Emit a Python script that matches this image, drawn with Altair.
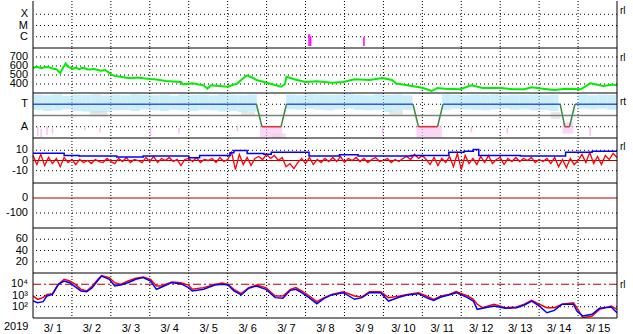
import altair as alt
import pandas as pd

W, H = 584, 45
H1 = 47
FONT = "Liberation Sans"
DARKRED = "#b00000"

grid_days = list(range(1, 15))
frame_days = [0, 15]
label_days = [d + 0.5 for d in range(15)]

# ---------- Panel 1: X-ray flares ----------
xray_ticks = [1e-4, 1e-5, 1e-6]
xray_labels = ["X", "M", "C"]
xray_day = [7.09, 7.13, 8.50]
xray_lo = [1.5e-7, 1.5e-7, 1.5e-7]
xray_hi = [1.8e-6, 1.1e-6, 9e-7]

# ---------- Panel 2: solar wind speed ----------
speed_ticks = [700, 600, 500, 400]
speed_day = [0.00, 0.10, 0.21, 0.30, 0.41, 0.50, 0.60, 0.70, 0.75, 0.84, 0.89, 0.95, 1.04, 1.10,
             1.18, 1.25, 1.33, 1.40, 1.47, 1.55, 1.67, 1.75, 1.86,
             2.01, 2.10, 2.25, 2.40, 2.54, 2.70, 2.83, 3.00, 3.12, 3.25, 3.41, 3.60, 3.80, 3.85,
             4.09, 4.38, 4.48, 4.57, 4.77, 5.01,
             5.25, 5.49, 5.64, 5.74, 5.93, 6.12, 6.37, 6.47, 6.51, 6.71, 6.99, 7.29, 7.67, 7.97,
             8.26, 8.64, 8.98, 9.22, 9.32, 9.61, 10.00, 10.24, 10.39, 10.58, 10.97, 11.26, 11.55,
             12.03, 12.33, 12.62, 12.81, 13.10, 13.39, 13.68, 14.07, 14.31, 14.65, 14.89, 15.00]
speed_val = [581, 590, 575, 588, 585, 572, 565, 520, 565, 630, 595, 580, 570, 585,
             563, 580, 575, 562, 560, 570, 556, 548, 556,
             507, 490, 481, 470, 463, 472, 463, 455, 452, 445, 433, 428, 422, 395,
             407, 385, 348, 385, 378, 370,
             407, 496, 470, 444, 422, 400, 370, 400, 481, 452, 422, 430, 415, 422,
             452, 444, 467, 444, 407, 385, 359, 322, 356, 348, 341, 385, 356,
             356, 341, 341, 363, 348, 333, 348, 341, 407, 378, 393, 385]

# ---------- Panel 3: IMF sector ----------
sector_labels = ["T", "A"]
sector_ticks = [1, -1]
sector_day = [0, 5.74, 5.88, 6.37, 6.51, 9.76, 9.90, 10.39, 10.53, 13.54, 13.66, 13.78, 13.92, 15]
sector_val = [1, 1, -1, -1, 1, 1, -1, -1, 1, 1, -1, -1, 1, 1]
cyan_hi = [1.85, 1.8, 1.88, 1.75, 1.85, 1.82, 1.9, 1.78, 1.85, 1.8, 1.88, 1.85, 1.8, 1.86, 1.78,
           1.88, 1.82, 1.85, 1.8, 1.88, 1.84, 1.8, 1.86, None, None, None,
           1.85, 1.8, 1.88, 1.85, 1.82, 1.86, 1.9, 1.84, 1.8, 1.88, 1.82, 1.86, 1.8, None, None, None,
           1.88, 1.84, 1.8, 1.86, 1.82, 1.88, 1.8, 1.85, 1.82, 1.86, 1.8, 1.84, None, None,
           1.85, 1.8, 1.86, 1.82]
cyan_lo = [0.5, 0.4, 0.45, 0.55, 0.4, 0.35, 0.25, 0.3, 0.45, 0.5, 0.4, 0.55, 0.45, 0.4, 0.5,
           0.45, 0.4, 0.5, 0.45, 0.35, 0.4, 0.3, 0.35, None, None, None,
           0.55, 0.5, 0.6, 0.5, 0.45, 0.55, 0.6, 0.5, 0.45, 0.5, 0.3, 0.4, 0.5, None, None, None,
           0.5, 0.6, 0.55, 0.5, 0.45, 0.55, 0.6, 0.5, 0.55, 0.45, 0.5, 0.4, None, None,
           0.6, 0.55, 0.6, 0.5]
pinkA_day = [5.83, 9.85, 13.60]
pinkA_day2 = [6.40, 10.50, 13.88]
pinkA_lo = [-1.95, -1.95, -1.6]
pinkA_hi = [-0.9, -0.85, -0.6]
pink_day = [0.12, 0.21, 0.36, 0.50, 1.33, 1.72, 3.02, 3.75, 5.25, 8.98, 11.26, 12.18, 14.31]
pink_lo = [-1.8, -1.9, -1.7, -1.6, -1.3, -1.5, -1.8, -1.6, -1.4, -1.7, -1.5, -1.6, -1.8]
pink_hi = [-1.0, -1.2, -0.95, -1.1, -1.0, -1.1, -1.0, -1.1, -0.9, -0.9, -1.0, -1.1, -1.0]
gray_day = [1.45, 5.35, 9.15, 13.30, 6.15]
gray_day2 = [1.90, 5.70, 9.50, 13.55, 6.50]
gray_lo = [-0.1, 0.0, 0.0, -0.3, -2.0]
gray_hi = [0.4, 0.35, 0.4, 0.3, -1.6]

# ---------- Panel 4: IMF Bt / Bz ----------
bz = [5, -4, 6, -5, 3,
      -3, 2, -6, 3, -2, 1, -4,
      1, -2, 0, -3, 1, -1, -2, 2, -1, -3,
      2, -1, 3, -2, 1, 0, -2,
      3, -1, 4, -2, 2, 0, 3, -1, 1,
      -5, 1,
      2, -1, 3, -2, 1, 0, 2, -2, 3, -1, 1,
      8, -9, 6,
      -4, 3, -5, 2,
      4, 1, 6, 2, 5, 0, 3,
      -6, -3, -8, -2,
      2, -3, 3, -4, 1, -2, 2, -1,
      3, -1, 4, -2, 2, 0, 3,
      -1, 2, -2, 1, 3, -1, 0, 2, -2, 1, -1, 2,
      4, 1, 6, 2, 5, 1,
      -4, 3, -5, 2, -2, 4,
      -6, 7, -9, 5, -3, 2,
      -4, 4, -2, 5, -3, 1, 3, -4, 2, -1, 3,
      -1, 2, 0, 3, -2, 1, -1, 2,
      -3, 3, -6, 1, -7, 2, -4, 0,
      6, -2, 8, -3, 4, -4, 5, 1, 7, 3]
bt_day = [0, 0.8, 1.18, 2.15, 2.83, 4.0, 4.28, 5.06, 5.16, 5.5, 5.93, 6.12, 7.09, 7.87, 8.35,
          9.71, 10.68, 11.07, 11.31, 11.45, 12.52, 13.68, 14.36, 15]
bt_val = [7.0, 5.0, 4.3, 3.5, 4.3, 2.7, 5.0, 7.5, 9.7, 6.8, 6.0, 8.0, 4.3, 5.6, 4.3,
          5.0, 8.0, 9.0, 10.8, 5.0, 4.3, 8.0, 9.0, 9.0]
bz_grid = [10, -10]
bz_ticks = [10, 0, -10]
bz_labels = ["10", "0", "-10"]

# ---------- Panel 5 / 6 ----------
dst_grid = [-100]
dst_ticks = [0, -100]
dst_labels = ["0", "-100"]
p6_ticks = [60, 40, 20]
p6_labels = ["60", "40", "20"]

# ---------- Panel 7: electron flux (log10) ----------
flux_day = [0.00, 0.12, 0.26, 0.36, 0.50, 0.65, 0.80, 0.94, 1.09, 1.23,
            1.38, 1.52, 1.67, 1.76, 1.96, 2.10, 2.25, 2.44, 2.64, 2.83,
            3.02, 3.17, 3.31, 3.56, 3.80, 3.99, 4.09, 4.38, 4.67, 4.86,
            5.01, 5.16, 5.35, 5.54, 5.74, 5.98, 6.22, 6.42, 6.61, 6.75,
            6.90, 7.09, 7.29, 7.48, 7.67, 7.97, 8.26, 8.45, 8.64, 8.93,
            9.13, 9.42, 9.61, 9.90, 10.10, 10.29, 10.48, 10.68, 10.87, 11.16,
            11.31, 11.41, 11.55, 11.84, 12.13, 12.42, 12.62, 12.81, 13.00, 13.20,
            13.39, 13.59, 13.88, 13.97, 14.12, 14.36, 14.55, 14.85, 15.00]
flux_red_log = [2.96, 2.66, 2.81, 3.10, 3.16, 3.99, 4.44, 4.29, 3.99, 3.55,
                3.40, 3.85, 4.44, 4.76, 4.59, 4.14, 3.99, 4.29, 4.53, 4.65,
                4.44, 3.85, 3.85, 4.20, 4.14, 3.93, 3.55, 3.70, 3.99, 4.11,
                3.99, 3.55, 3.16, 3.70, 3.93, 3.70, 2.96, 2.96, 3.55, 3.70,
                3.40, 2.96, 2.45, 2.81, 3.10, 3.34, 2.96, 2.87, 3.34, 3.34,
                2.81, 2.96, 3.10, 3.25, 2.96, 2.66, 2.96, 3.10, 3.34, 2.96,
                2.66, 2.22, 1.92, 2.22, 1.92, 1.98, 2.22, 2.57, 2.22, 1.92,
                1.92, 2.22, 2.36, 1.92, 1.03, 1.18, 1.77, 2.07, 1.77]
flux_blue_log = [2.51, 2.36, 2.45, 2.96, 3.10, 3.99, 4.29, 4.14, 3.76, 3.40,
                 3.34, 3.70, 4.35, 4.73, 4.44, 3.85, 3.93, 4.14, 4.44, 4.59,
                 4.29, 3.55, 3.76, 4.14, 4.05, 3.70, 3.40, 3.55, 3.93, 3.99,
                 3.93, 3.40, 3.05, 3.64, 3.85, 3.55, 2.81, 2.75, 3.46, 3.55,
                 3.25, 2.81, 2.27, 2.75, 3.05, 3.25, 2.66, 2.81, 3.25, 3.25,
                 2.51, 2.87, 3.05, 3.16, 2.81, 2.57, 2.87, 3.05, 3.25, 2.81,
                 2.51, 1.77, 1.86, 2.07, 1.86, 1.92, 2.16, 2.51, 2.07, 1.47,
                 1.68, 2.22, 2.22, 1.62, 1.18, 1.33, 1.86, 1.98, 1.47]
flux_grid = [1e3, 1e2]
flux_ticks = [1e4, 1e3, 1e2]
flux_labels = ["10⁴", "10³", "10²"]
flux_ref = [1e4]

# ================= helpers =================
XS = alt.Scale(domain=[0, 15], nice=False, zero=False)


def X():
    return alt.X("day:Q", scale=XS, axis=None, title=None)


def XB():
    return alt.X("day:Q", scale=XS, title=None)


def Y(field, ys):
    return alt.Y(f"{field}:Q", scale=ys, axis=None, title=None)


def vgrid(bottom=False):
    df = pd.DataFrame({"day": grid_days})
    if bottom:
        ax = alt.Axis(values=label_days, labelExpr="'3/ ' + (floor(datum.value) + 1)",
                      ticks=False, domain=False, grid=False, labelFont=FONT, labelFontSize=11,
                      labelColor="black", labelPadding=4, labelFlush=False, labelOverlap=False)
        x = alt.X("day:Q", scale=XS, axis=ax, title=None)
    else:
        x = X()
    return alt.Chart(df).mark_rule(color="black", strokeDash=[1, 2], strokeWidth=1).encode(x=x)


def frame(h, bottom=False):
    df = pd.DataFrame({"day": frame_days})
    side = alt.Chart(df).mark_rule(color="black", strokeWidth=1).encode(x=XB() if bottom else X())
    base = alt.Chart(pd.DataFrame({"k": [0]})).mark_rule(color="black", strokeWidth=1).encode(
        x=alt.value(0), x2=alt.value(W), y=alt.value(h))
    return [side, base]


def hgrid(values, ys):
    df = pd.DataFrame({"v": values})
    return alt.Chart(df).mark_rule(color="black", strokeDash=[1, 3], strokeWidth=1).encode(y=Y("v", ys))


def ylabels(values, texts, ys):
    df = pd.DataFrame({"v": values, "t": texts})
    return alt.Chart(df).mark_text(align="right", baseline="middle", font=FONT, fontSize=11,
                                   color="black").encode(x=alt.value(-5), y=Y("v", ys), text="t:N")


def rl(text, y):
    df = pd.DataFrame({"t": [text]})
    return alt.Chart(df).mark_text(align="left", baseline="middle", font=FONT, fontSize=10,
                                   color="black").encode(x=alt.value(W + 3), y=alt.value(y), text="t:N")


# ================= panel 1 =================
ys1 = alt.Scale(type="log", domain=[1e-7, 10 ** -2.822], nice=False)
xray_df = pd.DataFrame({"day": xray_day, "lo": xray_lo, "hi": xray_hi})
p1 = alt.layer(
    vgrid(),
    hgrid(xray_ticks, ys1),
    ylabels(xray_ticks, xray_labels, ys1),
    alt.Chart(xray_df).mark_rule(color="#ff00ff", strokeWidth=1.5).encode(
        x=X(), y=Y("lo", ys1), y2="hi:Q"),
    *frame(H1),
    rl("rl", 10),
).properties(width=W, height=H1)

# ================= panel 2 =================
ys2 = alt.Scale(domain=[300, 800], nice=False, zero=False)
speed_df = pd.DataFrame({"day": speed_day, "v": speed_val})
p2 = alt.layer(
    vgrid(),
    hgrid(speed_ticks, ys2),
    ylabels(speed_ticks, [str(v) for v in speed_ticks], ys2),
    alt.Chart(speed_df).mark_line(color="#00ee00", strokeWidth=2, clip=True).encode(
        x=X(), y=Y("v", ys2)),
    *frame(H),
    rl("rl", 10),
).properties(width=W, height=H)

# ================= panel 3 =================
ys3 = alt.Scale(domain=[-2, 2], nice=False, zero=False)
cy_rows = []
for i, (h, l) in enumerate(zip(cyan_hi, cyan_lo)):
    if h is not None:
        cy_rows.append({"day": i * 0.25, "day2": i * 0.25 + 0.25, "lo": l, "hi": h})
cy_df = pd.DataFrame(cy_rows)
pinkA_df = pd.DataFrame({"day": pinkA_day, "day2": pinkA_day2, "lo": pinkA_lo, "hi": pinkA_hi})
pink_df = pd.DataFrame({"day": pink_day, "lo": pink_lo, "hi": pink_hi})
gray_df = pd.DataFrame({"day": gray_day, "day2": gray_day2, "lo": gray_lo, "hi": gray_hi})
seg_rows = []
for i in range(len(sector_day) - 1):
    a, b = sector_val[i], sector_val[i + 1]
    kind = "T" if (a == 1 and b == 1) else ("A" if (a == -1 and b == -1) else "X")
    seg_rows.append({"day": sector_day[i], "day2": sector_day[i + 1], "v": a, "v2": b, "kind": kind})
seg_df = pd.DataFrame(seg_rows)
mid_df = pd.DataFrame({"v": [0]})
p3 = alt.layer(
    vgrid(),
    hgrid(sector_ticks, ys3),
    ylabels(sector_ticks, sector_labels, ys3),
    alt.Chart(gray_df).mark_rect(color="#d8d8d8", opacity=0.6).encode(
        x=X(), x2="day2:Q", y=Y("lo", ys3), y2="hi:Q"),
    alt.Chart(cy_df).mark_rect(color="#a8e4f6", opacity=0.6).encode(
        x=X(), x2="day2:Q", y=Y("lo", ys3), y2="hi:Q"),
    alt.Chart(pinkA_df).mark_rect(color="#f8c4f4", opacity=0.7).encode(
        x=X(), x2="day2:Q", y=Y("lo", ys3), y2="hi:Q"),
    alt.Chart(pink_df).mark_rule(color="#f6c0f2", strokeWidth=1.5).encode(
        x=X(), y=Y("lo", ys3), y2="hi:Q"),
    alt.Chart(mid_df).mark_rule(color="#808080", strokeWidth=1.5).encode(y=Y("v", ys3)),
    alt.Chart(seg_df).mark_rule(strokeWidth=1.5).encode(
        x=X(), x2="day2:Q", y=Y("v", ys3), y2="v2:Q",
        color=alt.Color("kind:N", scale=alt.Scale(domain=["T", "A", "X"],
                                                   range=["#3a5ad8", "#e83030", "#3f8a3f"]),
                        legend=None)),
    *frame(H),
    rl("rt", 9),
).properties(width=W, height=H)

# ================= panel 4 =================
ys4 = alt.Scale(domain=[-22, 22], nice=False, zero=False)
bz_df = pd.DataFrame({"day": [i / 10 for i in range(len(bz))], "v": bz})
bt_df = pd.DataFrame({"day": bt_day, "v": bt_val})
zero_df = pd.DataFrame({"v": [0]})
p4 = alt.layer(
    vgrid(),
    hgrid(bz_grid, ys4),
    ylabels(bz_ticks, bz_labels, ys4),
    alt.Chart(zero_df).mark_rule(color=DARKRED, strokeWidth=1).encode(y=Y("v", ys4)),
    alt.Chart(bz_df).mark_line(color="#ff0000", strokeWidth=1.3).encode(x=X(), y=Y("v", ys4)),
    alt.Chart(bt_df).mark_line(color="#0000ff", strokeWidth=1.5, interpolate="step-after").encode(
        x=X(), y=Y("v", ys4)),
    *frame(H),
    rl("rl", 9),
).properties(width=W, height=H)

# ================= panel 5 =================
ys5 = alt.Scale(domain=[-200, 100], nice=False, zero=False)
p5 = alt.layer(
    vgrid(),
    hgrid(dst_grid, ys5),
    ylabels(dst_ticks, dst_labels, ys5),
    alt.Chart(zero_df).mark_rule(color=DARKRED, strokeWidth=1).encode(y=Y("v", ys5)),
    *frame(H),
).properties(width=W, height=H)

# ================= panel 6 =================
ys6 = alt.Scale(domain=[0, 80], nice=False, zero=False)
p6 = alt.layer(
    vgrid(),
    hgrid(p6_ticks, ys6),
    ylabels(p6_ticks, p6_labels, ys6),
    *frame(H),
).properties(width=W, height=H)

# ================= panel 7 =================
ys7 = alt.Scale(type="log", domain=[10, 1e5], nice=False)
flux_rows = []
for d, r, b in zip(flux_day, flux_red_log, flux_blue_log):
    flux_rows.append({"day": d, "red": 10 ** r, "blue": 10 ** b})
flux_df = pd.DataFrame(flux_rows)
ref_df = pd.DataFrame({"v": flux_ref})
year_df = pd.DataFrame({"t": ["2019"]})
p7 = alt.layer(
    vgrid(bottom=True),
    hgrid(flux_grid, ys7),
    ylabels(flux_ticks, flux_labels, ys7),
    alt.Chart(ref_df).mark_rule(color=DARKRED, strokeWidth=1.2, strokeDash=[8, 3, 2, 3]).encode(
        y=Y("v", ys7)),
    alt.Chart(flux_df).mark_line(color="#ff0000", strokeWidth=1.5, clip=True).encode(
        x=XB(), y=Y("red", ys7)),
    alt.Chart(flux_df).mark_line(color="#0000ff", strokeWidth=1.5, clip=True).encode(
        x=XB(), y=Y("blue", ys7)),
    *frame(H, bottom=True),
    rl("rl", 12),
    alt.Chart(year_df).mark_text(align="left", baseline="middle", font=FONT, fontSize=11,
                                 color="black").encode(x=alt.value(-29), y=alt.value(H + 9), text="t:N"),
).properties(width=W, height=H)

chart = alt.vconcat(p1, p2, p3, p4, p5, p6, p7, spacing=0, bounds="flush").properties(
    padding={"left": 4, "top": 0, "right": 0, "bottom": 0}
).configure_view(stroke=None).configure_concat(spacing=0)

chart.save("out.html", embed_options={"renderer": "svg", "actions": False})
